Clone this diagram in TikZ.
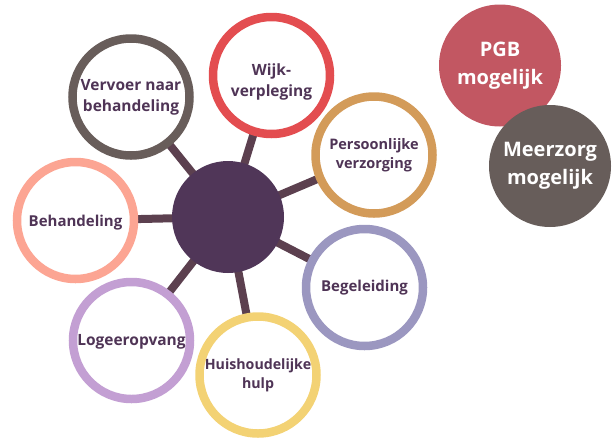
\documentclass[tikz,border=0pt]{standalone}
\usepackage{fontspec}
\setmainfont{Open Sans}
\definecolor{cvervoer}{HTML}{685D5A}
\definecolor{cwijk}{HTML}{E34D50}
\definecolor{cpers}{HTML}{D39B59}
\definecolor{cbeg}{HTML}{9B97C0}
\definecolor{chuis}{HTML}{F3D274}
\definecolor{clog}{HTML}{C39FD3}
\definecolor{cbeh}{HTML}{FCA593}
\definecolor{cpgb}{HTML}{C25762}
\definecolor{cmeer}{HTML}{675D5A}
\definecolor{ccenter}{HTML}{503658}
\definecolor{cline}{HTML}{5C404F}
\definecolor{ctext}{HTML}{4F3456}
\tikzset{
  ring/.style={circle, draw=#1, line width=8.5pt, fill=white, minimum size=117pt, inner sep=0pt,
    text=ctext, font=\bfseries\fontsize{14.5}{19}\selectfont, align=center},
  lbl/.style={text=ctext, align=center, inner sep=0pt},
  solid/.style={circle, fill=#1, minimum size=122pt, inner sep=0pt,
    text=white, font=\bfseries\fontsize{20}{28}\selectfont, align=center},
  spoke/.style={draw=cline, line width=8pt}
}
\begin{document}
\begin{tikzpicture}[x=1pt,y=-1pt]
\useasboundingbox (0,0) rectangle (613,437);
\coordinate (c) at (228,217);
\coordinate (pv) at (131,97);
\coordinate (pw) at (271.5,75.5);
\coordinate (pp) at (374,155);
\coordinate (pb) at (364.5,287.5);
\coordinate (ph) at (258,375);
\coordinate (pl) at (131.5,340.5);
\coordinate (pbh) at (75.5,220.5);
\foreach \p in {pv,pw,pp,pb,ph,pl,pbh} \draw[spoke] (c) -- (\p);
\node[circle, fill=ccenter, minimum size=112pt, inner sep=0pt] (center) at (c) {};
\node[ring=cvervoer, font=\bfseries\fontsize{15.5}{21}\selectfont] (vervoer) at (pv) {Vervoer naar\\behandeling};
\node[ring=cwijk] (wijk) at (pw) {};
\node[lbl, font=\bfseries\fontsize{15.5}{21}\selectfont] (wijklbl) at (271.5,82) {Wijk-\\verpleging};
\node[ring=cpers, font=\bfseries\fontsize{14.5}{19}\selectfont] (pers) at (pp) {Persoonlijke\\verzorging};
\node[ring=cbeg, font=\bfseries\fontsize{15}{19}\selectfont] (beg) at (pb) {Begeleiding};
\node[ring=chuis, font=\bfseries\fontsize{14.2}{19}\selectfont] (huis) at (ph) {Huishoudelijke\\hulp};
\node[ring=clog] (log) at (pl) {};
\node[lbl, font=\bfseries\fontsize{15.5}{19}\selectfont] (loglbl) at (131.5,342) {Logeeropvang};
\node[ring=cbeh] (beh) at (pbh) {};
\node[lbl, font=\bfseries\fontsize{15}{19}\selectfont] (behlbl) at (75.5,223) {Behandeling};
\node[solid=cpgb] (pgb) at (500,65.5) {PGB\\mogelijk};
\node[solid=cmeer] (meer) at (550,166) {Meerzorg\\mogelijk};
\end{tikzpicture}
\end{document}
